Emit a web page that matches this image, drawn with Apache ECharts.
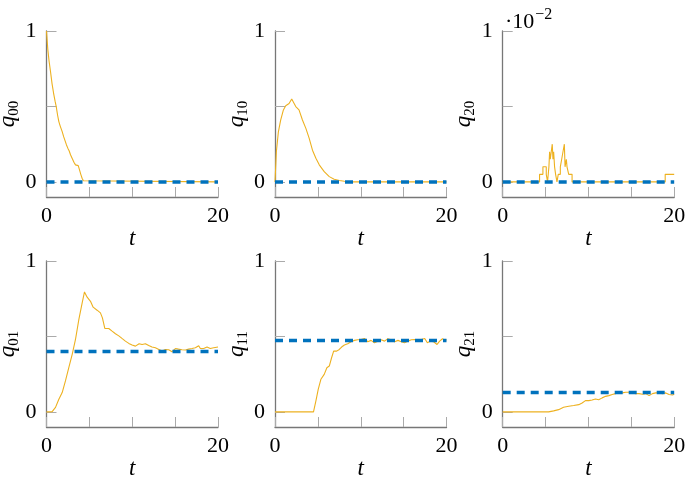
<!DOCTYPE html>
<html><head><meta charset="utf-8">
<script src="https://cdn.jsdelivr.net/npm/echarts@6/dist/echarts.min.js"></script>
<style>html,body{margin:0;padding:0;background:#fff}#c{width:685px;height:479px}</style>
</head><body><div id="c"></div>
<script>
// ---- data ----
const xTicks = [0, 5, 10, 15, 20];
const xLabels = [0, 20];
const yTicks = [0, 0.5, 1];
const yLabels = [0, 1];
const panelSubs = ['00', '10', '20', '01', '11', '21'];
const steady = [0, 0, 0, 0.40, 0.474, 0.128];

const q00 = [[0,1],[0.15,0.88],[0.3,0.8],[0.47,0.73],[0.65,0.65],[0.85,0.58],[1.0,0.535],[1.13,0.5],[1.3,0.44],[1.44,0.4],[1.6,0.37],[1.83,0.333],[2.0,0.3],[2.15,0.275],[2.33,0.245],[2.5,0.222],[2.65,0.205],[2.8,0.18],[3.0,0.155],[3.2,0.13],[3.38,0.113],[3.45,0.118],[3.6,0.105],[3.7,0.108],[3.85,0.08],[4.0,0.05],[4.15,0.024],[4.3,0.008],[4.45,0],[20,0]];
const q10 = [[0,0],[0.16,0.2],[0.39,0.33],[0.66,0.41],[0.98,0.477],[1.25,0.505],[1.64,0.52],[1.95,0.55],[2.1,0.543],[2.42,0.499],[2.8,0.477],[3.2,0.41],[3.6,0.355],[3.98,0.29],[4.37,0.21],[4.77,0.157],[5.16,0.113],[5.74,0.068],[6.33,0.035],[6.9,0.018],[7.5,0.009],[8.1,0.004],[8.7,0],[20,0]];
// q20 in units of 1e-2
const q20 = [[0,0],[4.3,0.05],[4.69,0.1],[5.08,0.05],[5.23,0],[5.39,0.1],[5.47,0.2],[5.55,0.15],[5.66,0.2],[5.78,0.25],[5.86,0.15],[5.94,0.2],[6.05,0.1],[6.17,0.05],[6.33,0],[6.48,0.05],[6.72,0.1],[6.88,0.15],[7.03,0.2],[7.19,0.25],[7.27,0.1],[7.42,0.15],[7.5,0.1],[7.7,0.05],[8.09,0],[18.95,0.05],[20,0.05]];
const q01 = [[0,0],[0.66,0.002],[1.05,0.03],[1.44,0.084],[1.83,0.128],[2.21,0.205],[2.6,0.293],[2.99,0.38],[3.38,0.48],[3.77,0.612],[4.16,0.722],[4.43,0.795],[4.74,0.76],[5.13,0.733],[5.44,0.694],[5.9,0.674],[6.29,0.656],[6.52,0.623],[6.8,0.553],[7.26,0.553],[7.65,0.535],[8.04,0.518],[8.43,0.504],[8.8,0.487],[9.2,0.469],[9.6,0.454],[9.98,0.443],[10.37,0.436],[10.8,0.452],[11.15,0.447],[11.53,0.452],[11.92,0.44],[12.3,0.43],[12.7,0.425],[13.1,0.414],[13.5,0.403],[13.86,0.414],[14.25,0.412],[14.64,0.399],[15.03,0.42],[15.4,0.416],[15.8,0.412],[16.2,0.41],[16.58,0.416],[16.97,0.42],[17.36,0.425],[17.75,0.438],[17.94,0.42],[18.33,0.42],[18.72,0.43],[19.1,0.42],[19.5,0.425],[20,0.43]];
const q11 = [[0,0],[4.49,0],[4.77,0.073],[5.04,0.15],[5.35,0.216],[5.74,0.249],[6.05,0.293],[6.33,0.304],[6.6,0.359],[6.84,0.403],[7.19,0.403],[7.5,0.414],[7.77,0.43],[8.09,0.443],[8.48,0.452],[8.87,0.465],[9.26,0.474],[9.65,0.478],[10.04,0.48],[10.43,0.487],[10.82,0.465],[11.2,0.474],[11.6,0.458],[12.0,0.469],[12.38,0.478],[12.77,0.469],[13.16,0.485],[13.55,0.478],[13.95,0.465],[14.34,0.474],[14.73,0.465],[15.1,0.458],[15.5,0.469],[15.9,0.478],[16.3,0.48],[16.68,0.478],[17.07,0.48],[17.46,0.487],[17.77,0.458],[18.1,0.469],[18.5,0.465],[18.9,0.447],[19.2,0.469],[19.53,0.485],[19.8,0.474],[20,0.478]];
const q21 = [[0,0],[5.35,0],[5.94,0.007],[6.52,0.015],[7.1,0.031],[7.7,0.037],[8.28,0.042],[8.87,0.048],[9.26,0.059],[9.65,0.075],[10.04,0.075],[10.43,0.079],[10.82,0.086],[11.2,0.081],[11.6,0.093],[12.0,0.103],[12.38,0.108],[12.77,0.115],[13.16,0.121],[13.55,0.13],[13.95,0.126],[14.34,0.13],[14.73,0.13],[15.1,0.126],[15.5,0.121],[15.9,0.121],[16.3,0.117],[16.68,0.121],[17.07,0.108],[17.46,0.121],[17.85,0.126],[18.24,0.126],[18.63,0.121],[19.02,0.126],[19.4,0.115],[19.8,0.112],[20,0.117]];

const sims = [q00, q10, q20, q01, q11, q21];
const stepped = [false, false, true, false, false, false];

// ---- layout / style ----
const FONT = '"Liberation Serif", serif';
const lefts = [46.5, 275, 502.7];
const tops = [31, 261];
const W = 171.5, H = 166;

const grid = [], xAxis = [], yAxis = [], series = [];
for (let i = 0; i < 6; i++) {
  const row = Math.floor(i / 3), col = i % 3;
  grid.push({left: lefts[col], top: tops[row], width: W, height: H, containLabel: false, outerBoundsMode: 'none'});
  xAxis.push({
    gridIndex: i, type: 'value', min: xTicks[0], max: xTicks[xTicks.length - 1], interval: 5,
    axisLine: {show: true, onZero: false, lineStyle: {color: '#777', width: 1.3}},
    axisTick: {show: true, inside: true, length: 10, customValues: xTicks, lineStyle: {color: '#aaa', width: 1}},
    axisLabel: {show: true, customValues: xLabels, margin: 8, fontFamily: FONT, fontSize: 22, color: '#000'},
    splitLine: {show: false},
    name: 't', nameLocation: 'middle', nameGap: 28,
    nameTextStyle: {fontFamily: FONT, fontStyle: 'italic', fontSize: 23, color: '#000'}
  });
  yAxis.push({
    gridIndex: i, type: 'value', min: -0.1, max: 1,
    axisLine: {show: true, onZero: false, lineStyle: {color: '#777', width: 1.3}},
    axisTick: {show: true, inside: true, length: 10, customValues: yTicks, lineStyle: {color: '#aaa', width: 1}},
    axisLabel: {show: true, customValues: yLabels, margin: 10, fontFamily: FONT, fontSize: 22, color: '#000'},
    splitLine: {show: false},
    name: '{q|q}{s|' + panelSubs[i] + '}', nameLocation: 'middle', nameGap: 22,
    nameTextStyle: {rich: {
      q: {fontFamily: FONT, fontStyle: 'italic', fontSize: 23, color: '#000'},
      s: {fontFamily: FONT, fontSize: 15, color: '#000', padding: [12, 0, 0, 0]}
    }}
  });
  series.push({
    type: 'line', xAxisIndex: i, yAxisIndex: i, data: sims[i], step: stepped[i] ? 'end' : false,
    symbol: 'none', lineStyle: {color: '#EDB120', width: 1.1}, z: 2
  });
  series.push({
    type: 'line', xAxisIndex: i, yAxisIndex: i,
    data: [[xTicks[0], steady[i]], [xTicks[xTicks.length - 1], steady[i]]],
    symbol: 'none', lineStyle: {color: '#0072BD', width: 3.5, type: [8, 6]}, z: 3
  });
}

const chart = echarts.init(document.getElementById('c'), null, {renderer: 'canvas'});
chart.setOption({
  animation: false,
  backgroundColor: '#fff',
  title: {
    text: '{a|·10}{b|−2}', left: 500, top: 0,
    textStyle: {fontWeight: 'normal', rich: {
      a: {fontFamily: FONT, fontSize: 22, fontWeight: 'normal', color: '#000', padding: [6, 0, 0, 0]},
      b: {fontFamily: FONT, fontSize: 16, fontWeight: 'normal', color: '#000', padding: [0, 0, 8, 1]}
    }}
  },
  grid, xAxis, yAxis, series
});
</script>
</body></html>
